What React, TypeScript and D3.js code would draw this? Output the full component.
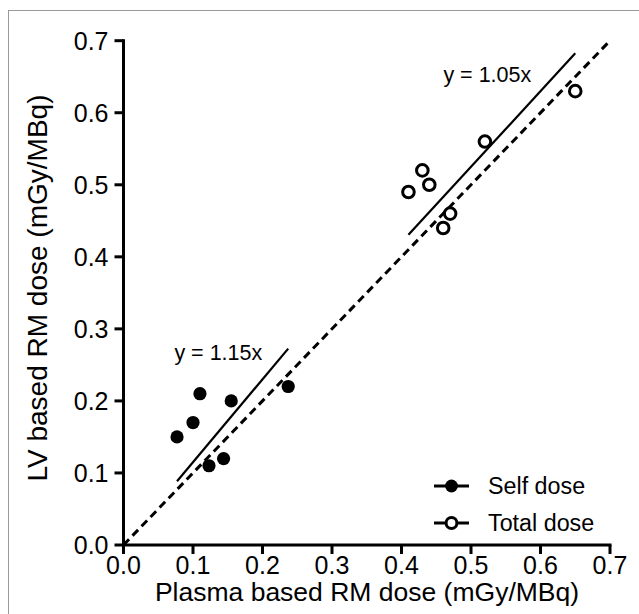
import React from "react";
import * as d3 from "d3";

const selfX = [0.077, 0.1, 0.11, 0.155, 0.123, 0.144, 0.237];
const selfY = [0.15, 0.17, 0.21, 0.2, 0.11, 0.12, 0.22];
const totalX = [0.41, 0.43, 0.44, 0.46, 0.47, 0.52, 0.65];
const totalY = [0.49, 0.52, 0.5, 0.44, 0.46, 0.56, 0.63];
const selfSlope = 1.15;
const totalSlope = 1.05;
const tickValues = [0, 0.1, 0.2, 0.3, 0.4, 0.5, 0.6, 0.7];
const seriesNames = ["Self dose", "Total dose"];
const fitLabels = ["y = 1.15x", "y = 1.05x"];
const xTitle = "Plasma based RM dose (mGy/MBq)";
const yTitle = "LV based RM dose (mGy/MBq)";

const FONT = "'Liberation Sans', Arial, sans-serif";

function Txt({ x, y, size, anchor = "start", children }: any) {
  return (
    <text x={x} y={y} fontFamily={FONT} fontSize={size} textAnchor={anchor} fill="#000">
      {children}
    </text>
  );
}

export default function App() {
  const x = d3.scaleLinear().domain([0, 0.7]).range([123.5, 610]);
  const y = d3.scaleLinear().domain([0, 0.7]).range([545, 40.7]);
  const fmt = d3.format(".1f");
  const line = d3
    .line<[number, number]>()
    .x((d) => x(d[0]))
    .y((d) => y(d[1]));

  const selfExt = d3.extent(selfX) as [number, number];
  const totalExt = d3.extent(totalX) as [number, number];
  const selfFit: [number, number][] = selfExt.map((v) => [v, v * selfSlope]);
  const totalFit: [number, number][] = totalExt.map((v) => [v, v * totalSlope]);
  const identity: [number, number][] = [
    [0, 0],
    [0.7, 0.7],
  ];

  return (
    <svg
      width={639}
      height={614}
      style={{ position: "absolute", left: 0, top: 0, background: "#fff" }}
    >
      <rect x={0} y={0} width={639} height={614} fill="#fff" />
      <rect x={8.5} y={10.5} width={660} height={640} fill="none" stroke="#999" strokeWidth={1} />

      {/* identity dashed line */}
      <path d={line(identity)!} stroke="#000" strokeWidth={3} strokeDasharray="8,5" fill="none" />
      {/* fit lines */}
      <path d={line(selfFit)!} stroke="#000" strokeWidth={2.2} fill="none" />
      <path d={line(totalFit)!} stroke="#000" strokeWidth={2.2} fill="none" />

      {/* axes */}
      <line x1={x(0)} x2={x(0)} y1={y(0.7) - 1.5} y2={y(0) + 1.5} stroke="#000" strokeWidth={3} />
      <line x1={x(0) - 1.5} x2={x(0.7) + 1.5} y1={y(0)} y2={y(0)} stroke="#000" strokeWidth={3} />
      {tickValues.map((t) => (
        <g key={"yt" + t}>
          <line x1={x(0) - 9} x2={x(0)} y1={y(t)} y2={y(t)} stroke="#000" strokeWidth={3} />
          <Txt x={x(0) - 15} y={y(t) + 9} size={25} anchor="end">
            {fmt(t)}
          </Txt>
        </g>
      ))}
      {tickValues.map((t) => (
        <g key={"xt" + t}>
          <line x1={x(t)} x2={x(t)} y1={y(0)} y2={y(0) + 9} stroke="#000" strokeWidth={3} />
          <Txt x={x(t)} y={574} size={25} anchor="middle">
            {fmt(t)}
          </Txt>
        </g>
      ))}

      {/* points */}
      {selfX.map((v, i) => (
        <circle key={"s" + i} cx={x(v)} cy={y(selfY[i])} r={6.6} fill="#000" />
      ))}
      {totalX.map((v, i) => (
        <circle
          key={"t" + i}
          cx={x(v)}
          cy={y(totalY[i])}
          r={5.8}
          fill="#fff"
          stroke="#000"
          strokeWidth={3}
        />
      ))}

      {/* fit labels */}
      <Txt x={174.4} y={360} size={21.5}>
        {fitLabels[0]}
      </Txt>
      <Txt x={443.4} y={82} size={21.5}>
        {fitLabels[1]}
      </Txt>

      {/* legend */}
      <line x1={434} x2={469} y1={486} y2={486} stroke="#000" strokeWidth={3} />
      <circle cx={451.5} cy={486} r={6.4} fill="#000" />
      <Txt x={488} y={494} size={23.3}>
        {seriesNames[0]}
      </Txt>
      <line x1={434} x2={469} y1={523} y2={523} stroke="#000" strokeWidth={3} />
      <circle cx={451.5} cy={523} r={5.4} fill="#fff" stroke="#000" strokeWidth={3} />
      <Txt x={488} y={531} size={23.3}>
        {seriesNames[1]}
      </Txt>

      {/* axis titles */}
      <Txt x={367} y={601} size={26.5} anchor="middle">
        {xTitle}
      </Txt>
      <text
        transform={`translate(47,288) rotate(-90)`}
        fontFamily={FONT}
        fontSize={28}
        textAnchor="middle"
        fill="#000"
      >
        {yTitle}
      </text>
    </svg>
  );
}
